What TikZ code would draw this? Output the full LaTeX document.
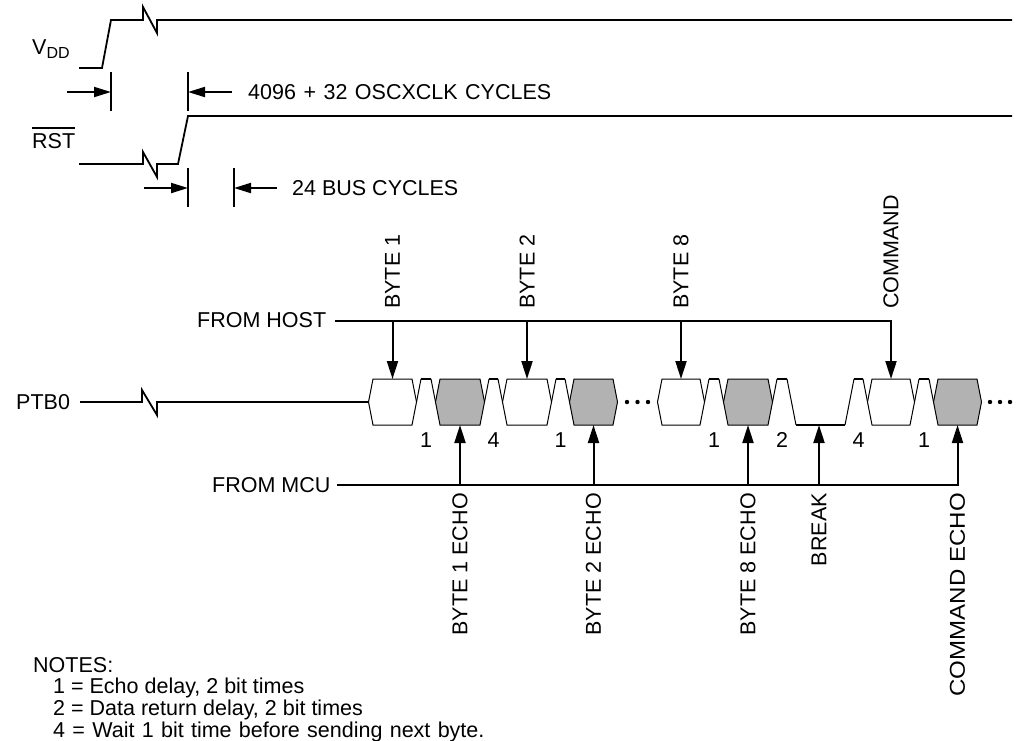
\documentclass[tikz,border=0pt]{standalone}
\usepackage{fontspec}
\setmainfont{Liberation Sans}
\usetikzlibrary{arrows.meta}
\definecolor{boxgray}{RGB}{178,178,178}
\newcommand\mkhex[4]{%
  \draw[thinl, fill=#4] (#2,379) -- ({#2-4.5},402) -- (#2,425) -- (#3,425) -- ({#3+4.5},402) -- (#3,379) -- cycle;
  \coordinate (#1t) at ({(#2+#3)/2},379);
  \coordinate (#1b) at ({(#2+#3)/2},425);}
\newcommand\mkidle[2]{%
  \draw[thinl] ({#1+4.5},402) -- ({#1+9},379);
  \draw[thinl] ({#2-9},379) -- ({#2-4.5},402);
  \draw[idle] ({#1+9},379) -- ({#2-9},379);}
\begin{document}
\begin{tikzpicture}[x=1pt,y=-1pt,
  lbl/.style={inner sep=0pt, font=\fontsize{21.5}{25}\selectfont},
  wave/.style={line width=1.8pt, line join=miter},
  thinl/.style={line width=1pt},
  idle/.style={line width=2pt},
  tick/.style={line width=2pt},
  arr/.style={line width=2pt, line join=miter, -{Triangle[length=18pt,width=11pt]}},
  dimarr/.style={line width=2pt, -{Triangle[length=17pt,width=10pt]}},
  vlab/.style={lbl, rotate=90}
]
\useasboundingbox (0,0) rectangle (1016,740);

% ---------- VDD ----------
\node[lbl, anchor=base west] (vdd) at (32,54) {V\raisebox{-4pt}{\fontsize{16}{16}\selectfont DD}};
\draw[wave] (79,68) -- (102,68) -- (111,20) -- (143,20) -- (143,7) -- (157,33) -- (157,20) -- (1012,20);

% dimension 1
\coordinate (ta1) at (111,72); \coordinate (ta2) at (111,111);
\coordinate (tb1) at (188,72); \coordinate (tb2) at (188,111);
\draw[tick] (ta1) -- (ta2);
\draw[tick] (tb1) -- (tb2);
\coordinate (da1) at (67,92); \coordinate (da1e) at (111,92);
\coordinate (da2) at (232,92); \coordinate (da2e) at (188,92);
\draw[dimarr] (da1) -- (da1e);
\draw[dimarr] (da2) -- (da2e);
\node[lbl, anchor=west] (dimA) at (248,92) {\spaceskip=7.5pt 4096 + 32 OSCXCLK CYCLES};

% ---------- RST ----------
\node[lbl, anchor=west] (rst) at (32,141) {RST};
\draw[line width=1.6pt] ([yshift=5pt]rst.north west) -- ([yshift=5pt]rst.north east);
\draw[wave] (79,164) -- (143,164) -- (143,152) -- (157,177) -- (157,164) -- (178,164) -- (188,116) -- (1012,116);

% dimension 2
\coordinate (tc1) at (188,168); \coordinate (tc2) at (188,207);
\coordinate (td1) at (234,168); \coordinate (td2) at (234,207);
\draw[tick] (tc1) -- (tc2);
\draw[tick] (td1) -- (td2);
\coordinate (db1) at (144,188); \coordinate (db1e) at (188,188);
\coordinate (db2) at (277,188); \coordinate (db2e) at (234,188);
\draw[dimarr] (db1) -- (db1e);
\draw[dimarr] (db2) -- (db2e);
\node[lbl, anchor=west] (dimB) at (292,188) {24 BUS CYCLES};

% ---------- PTB0 ----------
\node[lbl, anchor=west] (ptb) at (16,402) {PTB0};
\draw[wave] (80,402) -- (142,402) -- (142,390) -- (157,415) -- (157,402) -- (368.5,402);

\mkhex{wa}{373}{412}{white}
\mkidle{412}{440}
\mkhex{ga}{440}{480}{boxgray}
\mkidle{480}{507}
\mkhex{wb}{507}{547}{white}
\mkidle{547}{574}
\mkhex{gb}{574}{613}{boxgray}
\fill (627,402) circle (2.2pt);
\fill (637.5,402) circle (2.2pt);
\fill (648,402) circle (2.2pt);
\mkhex{wc}{662}{700}{white}
\mkidle{700}{728}
\mkhex{gc}{728}{768}{boxgray}
% break
\draw[thinl] (772.5,402) -- (777,379);
\draw[idle] (777,379) -- (787,379);
\draw[thinl] (787,379) -- (796,425);
\draw[idle] (796,425) -- (845,425);
\draw[thinl] (845,425) -- (854,379);
\draw[idle] (854,379) -- (863,379);
\draw[thinl] (863,379) -- (867.5,402);
\coordinate (brk) at (819,425);
\mkhex{wd}{872}{910}{white}
\mkidle{910}{938}
\mkhex{gd}{938}{977}{boxgray}
\fill (990,402) circle (2.2pt);
\fill (1000,402) circle (2.2pt);
\fill (1010,402) circle (2.2pt);

% delay numbers
\node[lbl] (n1) at (426,440) {1};
\node[lbl] (n2) at (493.5,440) {4};
\node[lbl] (n3) at (560.5,440) {1};
\node[lbl] (n4) at (714,440) {1};
\node[lbl] (n5) at (782,440) {2};
\node[lbl] (n6) at (858.5,440) {4};
\node[lbl] (n7) at (924,440) {1};

% ---------- FROM HOST ----------
\node[lbl, anchor=west] (host) at (197,320) {FROM HOST};
\coordinate (hostL) at (335,321);
\draw[arr] (hostL) -| (wdt);
\draw[arr] (wat |- hostL) -- (wat);
\draw[arr] (wbt |- hostL) -- (wbt);
\draw[arr] (wct |- hostL) -- (wct);
\node[vlab, anchor=west] (lh1) at (392.5,309) {BYTE 1};
\node[vlab, anchor=west] (lh2) at (527,309) {BYTE 2};
\node[vlab, anchor=west] (lh3) at (681,309) {BYTE 8};
\node[vlab, anchor=west] (lh4) at (891,309) {COMMAND};

% ---------- FROM MCU ----------
\node[lbl, anchor=west] (mcu) at (212,485) {FROM MCU};
\coordinate (mcuL) at (337,485);
\draw[arr] (mcuL) -| (gdb);
\draw[arr] (gab |- mcuL) -- (gab);
\draw[arr] (gbb |- mcuL) -- (gbb);
\draw[arr] (gcb |- mcuL) -- (gcb);
\draw[arr] (brk |- mcuL) -- (brk);
\node[vlab, anchor=east] (lm1) at (460,493) {BYTE 1 ECHO};
\node[vlab, anchor=east] (lm2) at (593.5,493) {BYTE 2 ECHO};
\node[vlab, anchor=east] (lm3) at (748,493) {BYTE 8 ECHO};
\node[vlab, anchor=east] (lm4) at (819,493) {BREAK};
\node[vlab, anchor=east] (lm5) at (957.5,493) {\scalebox{1.12}[1]{COMMAND ECHO}};

% ---------- NOTES ----------
\node[lbl, anchor=base west] (notes) at (33,672) {NOTES:};
\node[lbl, anchor=base west] (note1) at (53,693) {1 = Echo delay, 2 bit times};
\node[lbl, anchor=base west] (note2) at (53,715) {2 = Data return delay, 2 bit times};
\node[lbl, anchor=base west] (note3) at (53,737) {\spaceskip=7.3pt 4 = Wait 1 bit time before sending next byte.};
\end{tikzpicture}
\end{document}
